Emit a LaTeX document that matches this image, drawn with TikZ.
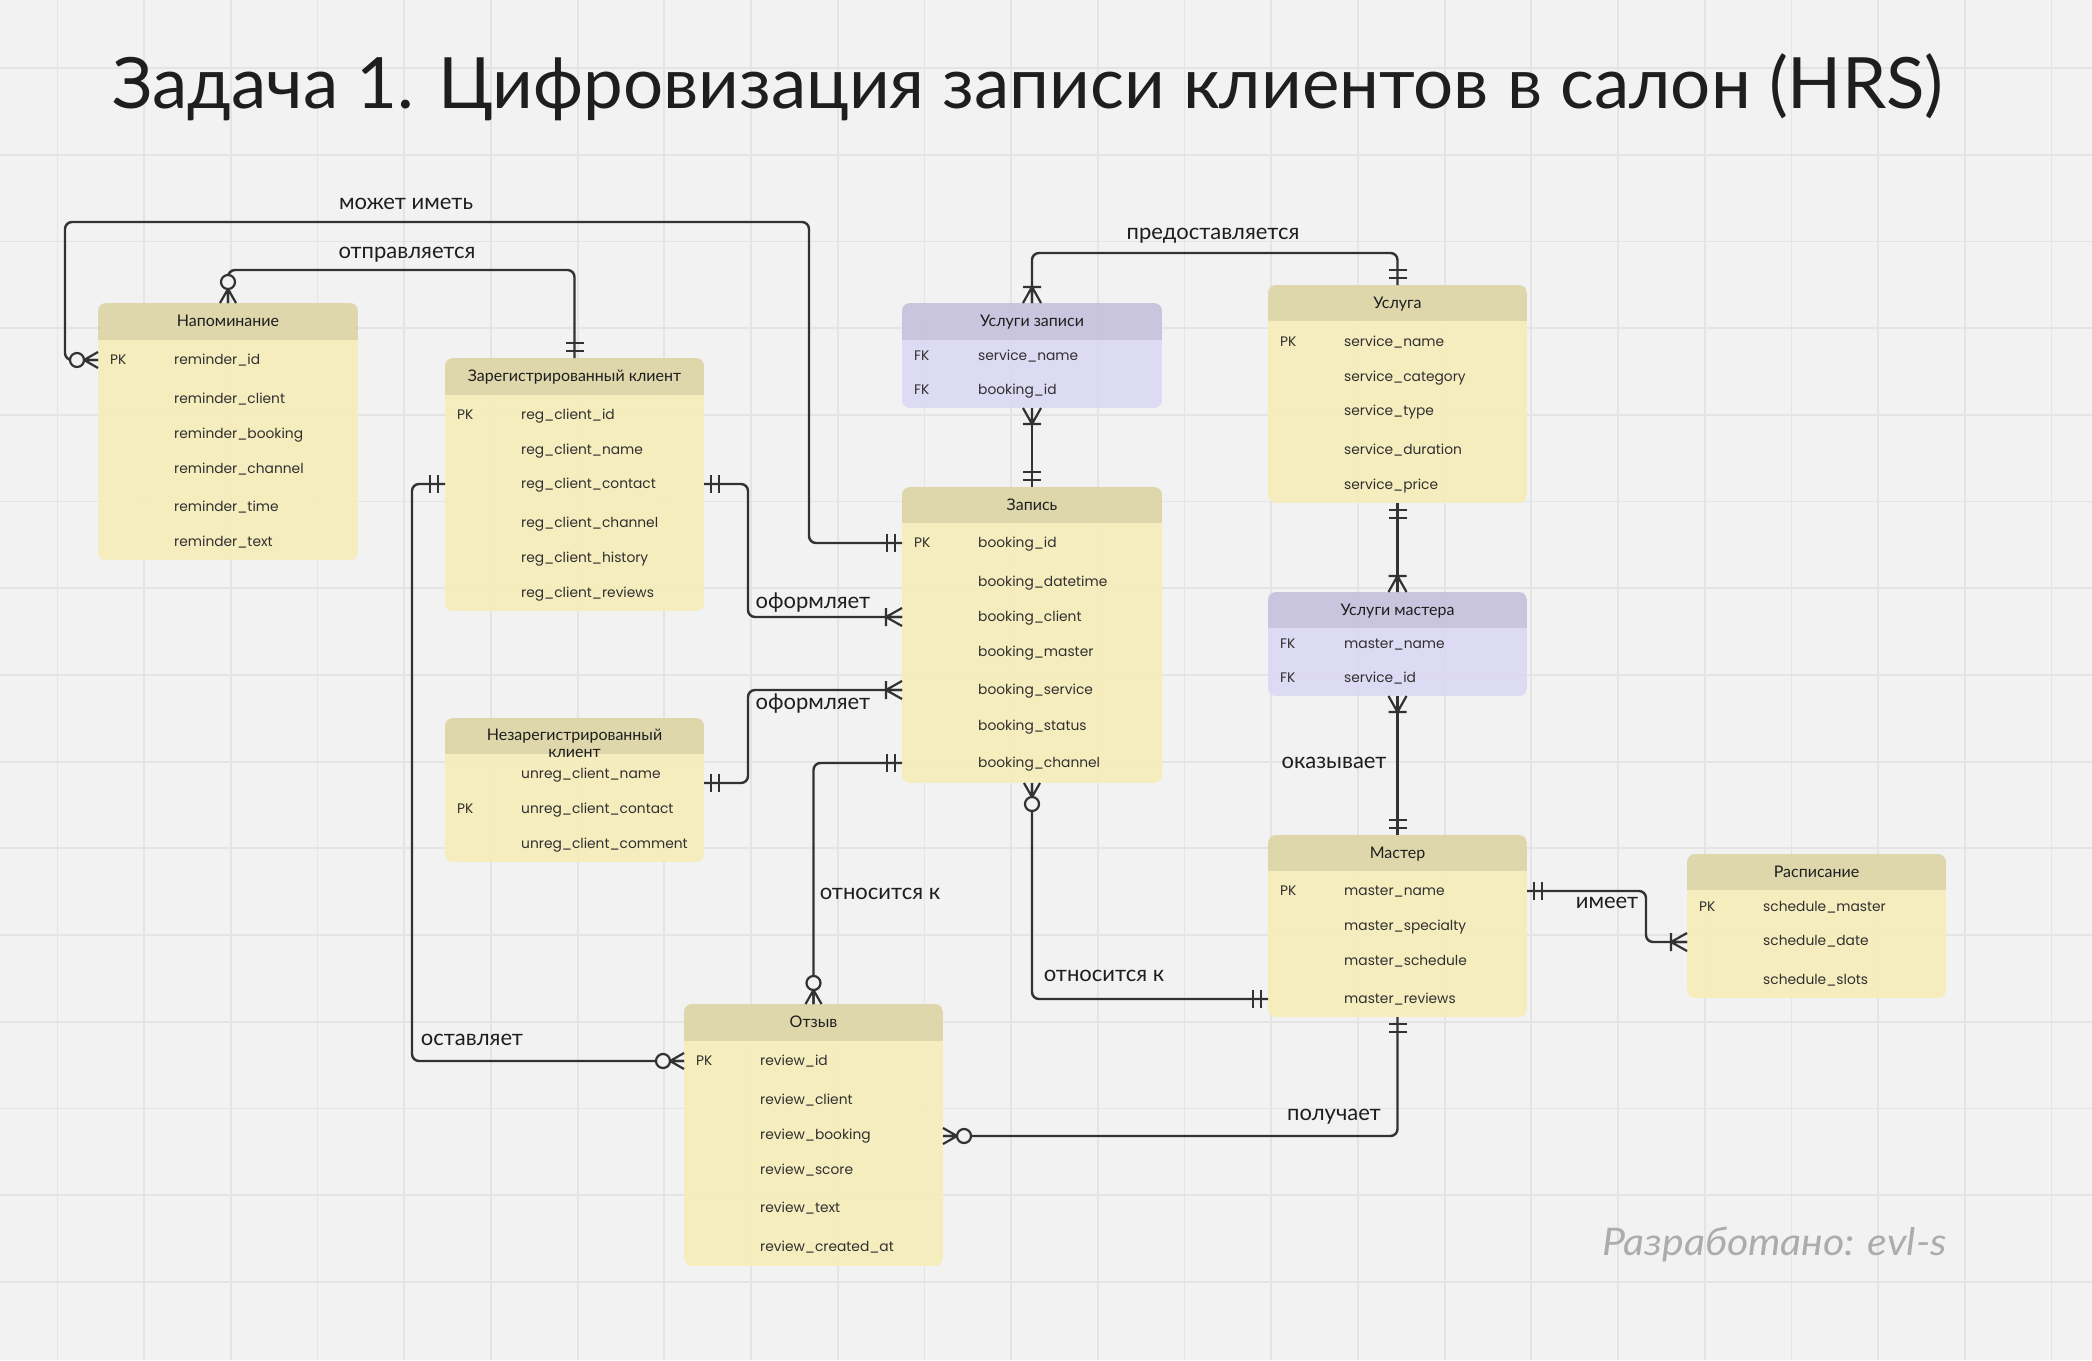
\documentclass[tikz,border=0pt]{standalone}
\usepackage{graphicx}
\usepackage{fontspec}
\setmainfont{Lato}
\newfontfamily\fieldfont{Poppins}
\definecolor{bg}{RGB}{242,242,242}
\definecolor{gridc}{RGB}{228,228,228}
\definecolor{ybody}{RGB}{246,237,186}
\definecolor{yhead}{RGB}{220,213,165}
\definecolor{pbody}{RGB}{220,216,244}
\definecolor{phead}{RGB}{198,194,222}
\definecolor{linec}{RGB}{50,50,50}
\definecolor{txtc}{RGB}{30,30,30}
\definecolor{fldc}{RGB}{48,48,48}
\definecolor{wmc}{RGB}{172,172,172}
\newcounter{fc}
\tikzset{
  conn/.style={draw=linec, line width=2.4pt, rounded corners=7pt},
  mk/.style={draw=linec, line width=2.2pt},
  gridline/.style={draw=gridc, line width=1.8pt},
  fldtxt/.style={font=\fieldfont\fontsize{13.8pt}{17pt}\selectfont, text=fldc, anchor=west, inner sep=0pt, text height=8pt, text depth=0pt},
  headtxt/.style={font=\fontsize{16pt}{19pt}\selectfont, text=txtc, anchor=base, inner sep=0pt},
  lbl/.style={font=\fontsize{22pt}{26pt}\selectfont, text=txtc, anchor=base, inner sep=0pt},
}
\newcommand\ertable[8]{%
  \node[inner sep=0pt,outer sep=0pt,minimum width={#4-#2},minimum height={#5-#3}] (#1) at ({(#2+#4)/2},{(#3+#5)/2}) {};
  \begin{scope}
    \clip[rounded corners=8pt] (#2,#3) rectangle (#4,#5);
    \fill[#8, fill opacity=0.92] (#2,#3) rectangle (#4,#6);
    \fill[#7, fill opacity=0.92] (#2,#6) rectangle (#4,#5);
  \end{scope}}
\newcommand\fld[4]{%
  \stepcounter{fc}\node[fldtxt] (k\arabic{fc}) at ({#1+12},#2) {#3};
  \node[fldtxt] (f\arabic{fc}) at ({#1+76},#2) {#4};}
\newcommand\mOne[2]{\draw[mk,shift={#1},rotate=#2] (7,-9)--(7,9) (15,-9)--(15,9);}
\newcommand\mOneMany[2]{\draw[mk,shift={#1},rotate=#2] (0,-9)--(16,0)--(0,9) (0,0)--(16,0) (16,-9)--(16,9);}
\newcommand\mZeroMany[2]{\draw[mk,shift={#1},rotate=#2] (0,-8)--(14,0)--(0,8) (0,0)--(14,0);
  \draw[mk,fill=bg,shift={#1},rotate=#2] (21,0) circle[radius=7pt];}
\begin{document}
\begin{tikzpicture}[x=1pt,y=-1pt]
\fill[bg] (0,0) rectangle (2092,1360);
\useasboundingbox (0,0) rectangle (2092,1360);
\foreach \i in {0,...,23} \draw[gridline] ({57.4+86.7*\i},0) -- ({57.4+86.7*\i},1360);
\foreach \j in {0,...,14} \draw[gridline] (0,{68+86.7*\j}) -- (2092,{68+86.7*\j});

% title
\node[anchor=base west, font=\fontsize{70.8pt}{80pt}\selectfont, text=txtc, inner sep=0pt] (title) at (112,108) {Задача 1. Цифровизация записи клиентов в салон (HRS)};
\node[anchor=base east, font=\itshape\fontsize{38pt}{42pt}\selectfont, text=wmc, inner sep=0pt] (wm) at (1947,1255) {\scalebox{1.08}[1]{Разработано: evl-s}};

% tables
\ertable{nap}{98}{303}{358}{560}{340}{ybody}{yhead}
\node[headtxt] (nap-h) at (228,326) {Напоминание};
\fld{98}{360}{PK}{reminder\_id}
\fld{98}{399}{}{reminder\_client}
\fld{98}{434}{}{reminder\_booking}
\fld{98}{469}{}{reminder\_channel}
\fld{98}{507}{}{reminder\_time}
\fld{98}{542}{}{reminder\_text}

\ertable{zr}{445}{358}{704}{611}{395}{ybody}{yhead}
\node[headtxt] (zr-h) at (574.5,381) {Зарегистрированный клиент};
\fld{445}{415}{PK}{reg\_client\_id}
\fld{445}{450}{}{reg\_client\_name}
\fld{445}{484}{}{reg\_client\_contact}
\fld{445}{523}{}{reg\_client\_channel}
\fld{445}{558}{}{reg\_client\_history}
\fld{445}{593}{}{reg\_client\_reviews}

\ertable{nz}{445}{718}{704}{862}{754}{ybody}{yhead}
\node[headtxt] (nz-h1) at (574.5,740) {Незарегистрированный};
\node[headtxt] (nz-h2) at (574.5,757) {клиент};
\fld{445}{774}{}{unreg\_client\_name}
\fld{445}{809}{PK}{unreg\_client\_contact}
\fld{445}{844}{}{unreg\_client\_comment}

\ertable{uz}{902}{303}{1162}{408}{340}{pbody}{phead}
\node[headtxt] (uz-h) at (1032,326) {Услуги записи};
\fld{902}{356}{FK}{service\_name}
\fld{902}{390}{FK}{booking\_id}

\ertable{zap}{902}{487}{1162}{783}{523}{ybody}{yhead}
\node[headtxt] (zap-h) at (1032,510) {Запись};
\fld{902}{543}{PK}{booking\_id}
\fld{902}{582}{}{booking\_datetime}
\fld{902}{617}{}{booking\_client}
\fld{902}{652}{}{booking\_master}
\fld{902}{690}{}{booking\_service}
\fld{902}{726}{}{booking\_status}
\fld{902}{763}{}{booking\_channel}

\ertable{usl}{1268}{285}{1527}{503}{321}{ybody}{yhead}
\node[headtxt] (usl-h) at (1397.5,308) {Услуга};
\fld{1268}{342}{PK}{service\_name}
\fld{1268}{377}{}{service\_category}
\fld{1268}{411}{}{service\_type}
\fld{1268}{450}{}{service\_duration}
\fld{1268}{485}{}{service\_price}

\ertable{um}{1268}{592}{1527}{696}{628}{pbody}{phead}
\node[headtxt] (um-h) at (1397.5,615) {Услуги мастера};
\fld{1268}{644}{FK}{master\_name}
\fld{1268}{678}{FK}{service\_id}

\ertable{ms}{1268}{835}{1527}{1017}{871}{ybody}{yhead}
\node[headtxt] (ms-h) at (1397.5,858) {Мастер};
\fld{1268}{891}{PK}{master\_name}
\fld{1268}{926}{}{master\_specialty}
\fld{1268}{961}{}{master\_schedule}
\fld{1268}{999}{}{master\_reviews}

\ertable{rs}{1687}{854}{1946}{998}{890}{ybody}{yhead}
\node[headtxt] (rs-h) at (1816.5,877) {Расписание};
\fld{1687}{907}{PK}{schedule\_master}
\fld{1687}{941}{}{schedule\_date}
\fld{1687}{980}{}{schedule\_slots}

\ertable{ot}{684}{1004}{943}{1266}{1041}{ybody}{yhead}
\node[headtxt] (ot-h) at (813.5,1027) {Отзыв};
\fld{684}{1061}{PK}{review\_id}
\fld{684}{1100}{}{review\_client}
\fld{684}{1135}{}{review\_booking}
\fld{684}{1170}{}{review\_score}
\fld{684}{1208}{}{review\_text}
\fld{684}{1247}{}{review\_created\_at}

% connection end points
\coordinate (c1a) at (98,360);
\coordinate (c1b) at (902,543);
\coordinate (c3a) at (704,484);
\coordinate (c3b) at (902,617);
\coordinate (c4a) at (704,783);
\coordinate (c4b) at (902,690);
\coordinate (c5a) at (445,484);
\coordinate (c5b) at (684,1061);
\coordinate (c6a) at (902,763);
\coordinate (c7b) at (1268,999);
\coordinate (c12a) at (1527,891);
\coordinate (c12b) at (1687,942);
\coordinate (c13b) at (943,1136);

% connectors
\draw[conn] (c1a) -- (65,360) |- (809,222) |- (c1b);
\draw[conn] (nap.north) -- (228,270) -| (zr.north);
\draw[conn] (c3a) -- (748,484) |- (c3b);
\draw[conn] (c4a) -- (748,783) |- (c4b);
\draw[conn] (c5a) -- (412,484) |- (c5b);
\draw[conn] (c6a) -| (ot.north);
\draw[conn] (zap.south) |- (c7b);
\draw[conn] (uz.south) -- (zap.north);
\draw[conn] (uz.north) -- (1032,253) -| (usl.north);
\draw[conn] (usl.south) -- (um.north);
\draw[conn] (um.south) -- (ms.north);
\draw[conn] (c12a) -- (1646,891) |- (c12b);
\draw[conn] (ms.south) |- (c13b);

% markers
\mZeroMany{(c1a)}{180}
\mOne{(c1b)}{180}
\mZeroMany{(nap.north)}{90}
\mOne{(zr.north)}{90}
\mOne{(c3a)}{0}
\mOneMany{(c3b)}{180}
\mOne{(c4a)}{0}
\mOneMany{(c4b)}{180}
\mOne{(c5a)}{180}
\mZeroMany{(c5b)}{180}
\mOne{(c6a)}{180}
\mZeroMany{(ot.north)}{90}
\mZeroMany{(zap.south)}{270}
\mOne{(c7b)}{180}
\mOneMany{(uz.south)}{270}
\mOne{(zap.north)}{90}
\mOneMany{(uz.north)}{90}
\mOne{(usl.north)}{90}
\mOne{(usl.south)}{270}
\mOneMany{(um.north)}{90}
\mOneMany{(um.south)}{270}
\mOne{(ms.north)}{90}
\mOne{(c12a)}{0}
\mOneMany{(c12b)}{180}
\mOne{(ms.south)}{270}
\mZeroMany{(c13b)}{0}

% labels
\node[lbl] (l1) at (406,209) {может иметь};
\node[lbl] (l2) at (407,258) {отправляется};
\node[lbl] (l3) at (813,608) {оформляет};
\node[lbl] (l4) at (813,709) {оформляет};
\node[lbl] (l5) at (472,1045) {оставляет};
\node[lbl] (l6) at (880,899) {относится к};
\node[lbl] (l7) at (1104,981) {относится к};
\node[lbl] (l8) at (1213,239) {предоставляется};
\node[lbl] (l9) at (1334,768) {оказывает};
\node[lbl] (l10) at (1607,908) {имеет};
\node[lbl] (l11) at (1334,1120) {получает};
\end{tikzpicture}
\end{document}
